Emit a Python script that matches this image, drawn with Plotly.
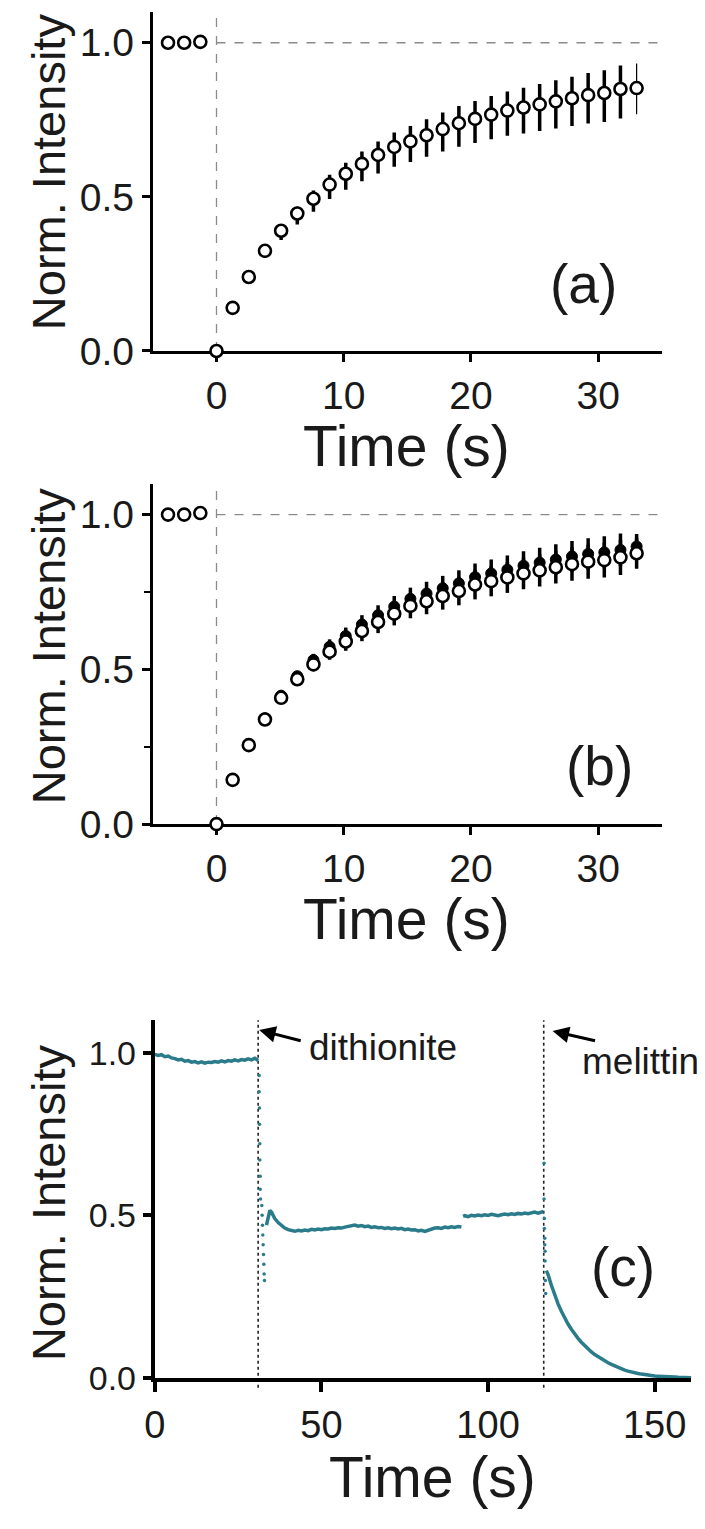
import plotly.graph_objects as go

# ---------------- data ----------------
# panels (a) and (b): FRAP-like recovery, frame interval ~1.27 s
time_ab = [-3.81, -2.54, -1.27, 0.0, 1.27, 2.54, 3.81, 5.08, 6.35, 7.62, 8.89, 10.16,
           11.43, 12.70, 13.97, 15.24, 16.51, 17.78, 19.05, 20.32, 21.59, 22.86,
           24.13, 25.40, 26.67, 27.94, 29.21, 30.48, 31.75, 33.02]

a_vals = [1.0, 1.0, 1.003, 0.0, 0.14, 0.24, 0.325, 0.39, 0.446, 0.494, 0.54, 0.575,
          0.607, 0.636, 0.662, 0.68, 0.70, 0.72, 0.739, 0.753, 0.767, 0.78,
          0.79, 0.80, 0.81, 0.82, 0.83, 0.837, 0.85, 0.853]
a_err_plus = [0, 0, 0, 0, 0.0, 0.008, 0.012, 0.018, 0.022, 0.027, 0.032, 0.036,
              0.040, 0.044, 0.047, 0.050, 0.052, 0.054, 0.056, 0.058, 0.060, 0.062,
              0.064, 0.066, 0.068, 0.070, 0.072, 0.074, 0.076, 0.080]
a_err_minus = [0, 0, 0, 0.01, 0.0, 0.015, 0.022, 0.030, 0.036, 0.042, 0.047, 0.052,
               0.056, 0.060, 0.064, 0.067, 0.070, 0.073, 0.076, 0.078, 0.080, 0.082,
               0.084, 0.086, 0.088, 0.090, 0.092, 0.094, 0.096, 0.085]

b_open = [1.0, 1.0, 1.005, 0.0, 0.143, 0.255, 0.338, 0.408, 0.468, 0.516, 0.557, 0.59,
          0.624, 0.653, 0.68, 0.705, 0.72, 0.737, 0.753, 0.774, 0.785, 0.797,
          0.81, 0.82, 0.83, 0.84, 0.848, 0.853, 0.862, 0.875]
b_open_err = [0, 0, 0, 0.005, 0.0, 0.006, 0.010, 0.014, 0.018, 0.022, 0.026, 0.030,
              0.033, 0.036, 0.038, 0.040, 0.042, 0.044, 0.046, 0.048, 0.049, 0.050,
              0.051, 0.052, 0.053, 0.054, 0.055, 0.056, 0.057, 0.05]
b_filled = [1.0, 1.0, 1.005, 0.0, 0.145, 0.258, 0.342, 0.415, 0.478, 0.53, 0.573, 0.608,
            0.645, 0.675, 0.703, 0.728, 0.745, 0.762, 0.778, 0.798, 0.81, 0.822,
            0.835, 0.845, 0.855, 0.865, 0.873, 0.878, 0.886, 0.897]
b_filled_err = [0, 0, 0, 0.0, 0.0, 0.005, 0.008, 0.012, 0.016, 0.020, 0.024, 0.027,
                0.030, 0.032, 0.034, 0.036, 0.038, 0.040, 0.042, 0.044, 0.045, 0.046,
                0.047, 0.048, 0.049, 0.050, 0.051, 0.052, 0.053, 0.04]

# panel (c): continuous trace
c_seg1_t = [0, 1, 2, 3, 4, 5, 6, 7, 8, 9, 10, 11, 12, 13, 14, 15, 16, 17, 18, 19, 20,
            21, 22, 23, 24, 25, 26, 27, 28, 29, 30, 31]
c_seg1_v = [0.995, 0.992, 0.994, 0.988, 0.990, 0.984, 0.982, 0.978, 0.980, 0.974, 0.976,
            0.971, 0.973, 0.969, 0.972, 0.968, 0.971, 0.970, 0.973, 0.971, 0.975, 0.972,
            0.976, 0.974, 0.978, 0.975, 0.979, 0.977, 0.981, 0.978, 0.983, 0.976]

c_seg2_t = [33.5, 34, 34.5, 35, 35.5, 36, 37, 38, 39, 40, 41, 42, 43, 44, 45, 46, 47, 48,
            49, 50, 51, 52, 53, 54, 55, 56, 57, 58, 59, 60, 61, 62, 63, 64, 65, 66, 67,
            68, 69, 70, 71, 72, 73, 74, 75, 76, 77, 78, 79, 80, 81, 82, 83, 84, 85, 86,
            87, 88, 89, 90, 91, 92]
c_seg2_v = [0.47, 0.50, 0.515, 0.51, 0.50, 0.49, 0.478, 0.468, 0.461, 0.456, 0.453, 0.451,
            0.454, 0.452, 0.455, 0.453, 0.457, 0.455, 0.458, 0.456, 0.459, 0.458, 0.461,
            0.460, 0.462, 0.461, 0.464, 0.466, 0.468, 0.470, 0.467, 0.469, 0.465, 0.467,
            0.463, 0.465, 0.462, 0.463, 0.460, 0.462, 0.459, 0.461, 0.458, 0.460, 0.456,
            0.458, 0.455, 0.456, 0.452, 0.454, 0.451, 0.455, 0.457, 0.461, 0.462, 0.460,
            0.464, 0.462, 0.465, 0.463, 0.466, 0.464]

c_seg3_t = [92.5, 93, 94, 95, 96, 97, 98, 99, 100, 101, 102, 103, 104, 105, 106, 107, 108,
            109, 110, 111, 112, 113, 114, 115, 116, 116.6]
c_seg3_v = [0.497, 0.499, 0.496, 0.500, 0.498, 0.501, 0.499, 0.502, 0.500, 0.503, 0.501,
            0.499, 0.502, 0.504, 0.502, 0.505, 0.503, 0.506, 0.504, 0.507, 0.505, 0.508,
            0.510, 0.507, 0.511, 0.512]

c_seg4_t = [117.5, 118, 119, 120, 121, 122, 123, 124, 125, 126, 127, 128, 129, 130, 131,
            132, 133, 134, 135, 136, 137, 138, 139, 140, 141, 142, 143, 144, 145, 146, 147,
            148, 149, 150, 151, 152, 153, 154, 155, 156, 157, 158, 159, 160, 161]
c_seg4_v = [0.33, 0.318, 0.285, 0.255, 0.228, 0.205, 0.184, 0.166, 0.150, 0.135, 0.122,
            0.110, 0.099, 0.089, 0.080, 0.072, 0.065, 0.058, 0.052, 0.047, 0.042, 0.037,
            0.033, 0.028, 0.024, 0.021, 0.018, 0.016, 0.014, 0.012, 0.010, 0.009, 0.007,
            0.006, 0.005, 0.005, 0.004, 0.004, 0.003, 0.003, 0.002, 0.002, 0.002, 0.002, 0.001]

# scattered points during the additions
c_drop_t = [31.3, 31.3, 31.4, 31.4, 31.5, 31.5, 31.6, 31.6, 31.7, 32.1, 32.2, 32.3, 32.4,
            32.5, 32.6, 32.7, 32.8, 32.9,
            116.8, 116.8, 116.9, 116.9, 117.0, 117.0, 117.1, 117.1, 117.2, 117.3]
c_drop_v = [0.93, 0.88, 0.83, 0.78, 0.72, 0.67, 0.62, 0.58, 0.55, 0.53, 0.50, 0.47, 0.44,
            0.41, 0.38, 0.35, 0.32, 0.30,
            0.66, 0.55, 0.49, 0.46, 0.43, 0.41, 0.39, 0.36, 0.30, 0.26]

event_times = [31.0, 116.7]
event_labels = ["dithionite", "melittin"]

ab_ticks = [0, 10, 20, 30]
y_ticks = [0.0, 0.5, 1.0]
y_ticktext = ["0.0", "0.5", "1.0"]
c_ticks = [0, 50, 100, 150]

# ---------------- figure ----------------
W, H = 705, 1529
FONT = "Liberation Sans, Arial, Helvetica, sans-serif"
TXT = "#1a1a1a"
TEAL = "#2a7c8b"


def px(x):
    return x / W


def py(y):
    return 1 - y / H


fig = go.Figure()

open_marker = dict(symbol="circle", size=12, color="white", line=dict(color="black", width=2.6))

# (a)
fig.add_trace(go.Scatter(
    x=time_ab[:-1], y=a_vals[:-1], mode="markers", marker=open_marker,
    error_y=dict(type="data", symmetric=False, array=a_err_plus[:-1],
                 arrayminus=a_err_minus[:-1], thickness=3.5, width=0, color="black"),
    xaxis="x", yaxis="y", cliponaxis=False, showlegend=False))
fig.add_trace(go.Scatter(
    x=time_ab[-1:], y=a_vals[-1:], mode="markers", marker=open_marker,
    error_y=dict(type="data", symmetric=False, array=a_err_plus[-1:],
                 arrayminus=a_err_minus[-1:], thickness=1.2, width=0, color="black"),
    xaxis="x", yaxis="y", cliponaxis=False, showlegend=False))

# (b)
fig.add_trace(go.Scatter(
    x=time_ab, y=b_filled, mode="markers",
    marker=dict(symbol="circle", size=11, color="black", line=dict(color="black", width=1)),
    error_y=dict(type="data", array=b_filled_err, thickness=3.5, width=0, color="black"),
    xaxis="x2", yaxis="y2", cliponaxis=False, showlegend=False))
fig.add_trace(go.Scatter(
    x=time_ab, y=b_open, mode="markers", marker=open_marker,
    error_y=dict(type="data", array=b_open_err, thickness=3.5, width=0, color="black"),
    xaxis="x2", yaxis="y2", cliponaxis=False, showlegend=False))

# (c)
for tt, vv in [(c_seg1_t, c_seg1_v), (c_seg2_t, c_seg2_v), (c_seg3_t, c_seg3_v), (c_seg4_t, c_seg4_v)]:
    fig.add_trace(go.Scatter(x=tt, y=vv, mode="lines", line=dict(color=TEAL, width=3.5),
                             xaxis="x3", yaxis="y3", cliponaxis=False, showlegend=False))
fig.add_trace(go.Scatter(x=c_drop_t, y=c_drop_v, mode="markers",
                         marker=dict(color=TEAL, size=3.5),
                         xaxis="x3", yaxis="y3", cliponaxis=False, showlegend=False))


def xax(domain, rng, ticks, anchor, lw=3, tl=8, fs=39):
    return dict(domain=domain, range=rng, anchor=anchor, tickvals=ticks,
                ticks="outside", ticklen=tl, tickwidth=lw, tickcolor="black",
                showline=True, linewidth=lw, linecolor="black", showgrid=False,
                zeroline=False, tickfont=dict(family=FONT, size=fs, color=TXT),
                layer="below traces", fixedrange=True)


def yax(domain, anchor, lw=3, tl=8, fs=39, minor=False):
    d = dict(domain=domain, range=[0, 1.1], anchor=anchor, tickvals=y_ticks,
             ticktext=y_ticktext, ticks="outside", ticklen=tl, tickwidth=lw,
             tickcolor="black", showline=True, linewidth=lw, linecolor="black",
             showgrid=False, zeroline=False,
             tickfont=dict(family=FONT, size=fs, color=TXT), layer="below traces",
             fixedrange=True)
    if minor:
        d["minor"] = dict(tickvals=[0.25, 0.75], ticks="outside", ticklen=6,
                          tickwidth=2, tickcolor="black", showgrid=False)
    return d


fig.update_layout(
    width=W, height=H, margin=dict(l=0, r=0, t=0, b=0),
    paper_bgcolor="white", plot_bgcolor="white",
    xaxis=xax([px(136), px(653)], [-5, 35], ab_ticks, "y"),
    yaxis=yax([py(348), py(4)], "x"),
    xaxis2=xax([px(136), px(653)], [-5, 35], ab_ticks, "y2"),
    yaxis2=yax([py(828), py(482.6)], "x2", minor=True),
    xaxis3=xax([px(138), px(683)], [0, 161], c_ticks, "y3", lw=4, tl=10, fs=38),
    yaxis3=yax([py(1390), py(1027)], "x3", lw=4, tl=8, fs=34),
)

shapes = []
for xr, yr in [("x", "y"), ("x2", "y2")]:
    shapes.append(dict(type="line", xref=xr, yref=yr, x0=0, x1=35, y0=1.0, y1=1.0,
                       line=dict(color="#8a8a8a", width=1.3, dash="dash"), layer="below"))
    shapes.append(dict(type="line", xref=xr, yref=yr, x0=0, x1=0, y0=0, y1=1.1,
                       line=dict(color="#8a8a8a", width=1.3, dash="dash"), layer="below"))
for et in event_times:
    shapes.append(dict(type="line", xref="x3", yref="paper", x0=et, x1=et,
                       y0=py(1400), y1=py(1027),
                       line=dict(color="#222222", width=1.6, dash="dot"), layer="below"))
fig.update_layout(shapes=shapes)

ann = []
# y titles
for ycen in [166, 647, 1212]:
    ann.append(dict(text="Norm. Intensity", x=px(30), y=py(ycen), xref="paper", yref="paper",
                    textangle=-90, showarrow=False, xanchor="center", yanchor="middle",
                    font=dict(family=FONT, size=47, color=TXT)))
# x titles
for xcen, ycen in [(394, 444), (394, 924), (420, 1490)]:
    ann.append(dict(text="Time (s)", x=px(xcen), y=py(ycen), xref="paper", yref="paper",
                    showarrow=False, xanchor="center", yanchor="middle",
                    font=dict(family=FONT, size=57, color=TXT)))
# panel letters
for lab, xcen, ycen in [("(a)", 573, 280), ("(b)", 590, 769), ("(c)", 614, 1277)]:
    ann.append(dict(text=lab, x=px(xcen), y=py(ycen), xref="paper", yref="paper",
                    showarrow=False, xanchor="center", yanchor="middle",
                    font=dict(family=FONT, size=55, color=TXT)))
# event labels + arrows
for lab, et, tx, ty, ax, ay in [("dithionite", event_times[0], 293, 1055, 43, 11),
                                ("melittin", event_times[1], 570, 1069, 44, 10)]:
    ann.append(dict(text=lab, x=px(tx), y=py(ty), xref="paper", yref="paper",
                    showarrow=False, xanchor="left", yanchor="middle",
                    font=dict(family=FONT, size=37, color=TXT)))
tips = [(244, 1037, 43, 11), (542, 1038, 44, 10)]
for tx, ty, ax, ay in tips:
    ann.append(dict(text="", x=px(tx), y=py(ty), xref="paper", yref="paper",
                    showarrow=True, arrowhead=2, arrowsize=1.1, arrowwidth=3,
                    arrowcolor="black", ax=ax, ay=ay, axref="pixel", ayref="pixel"))
fig.update_layout(annotations=ann)

fig.write_html("out.html")
